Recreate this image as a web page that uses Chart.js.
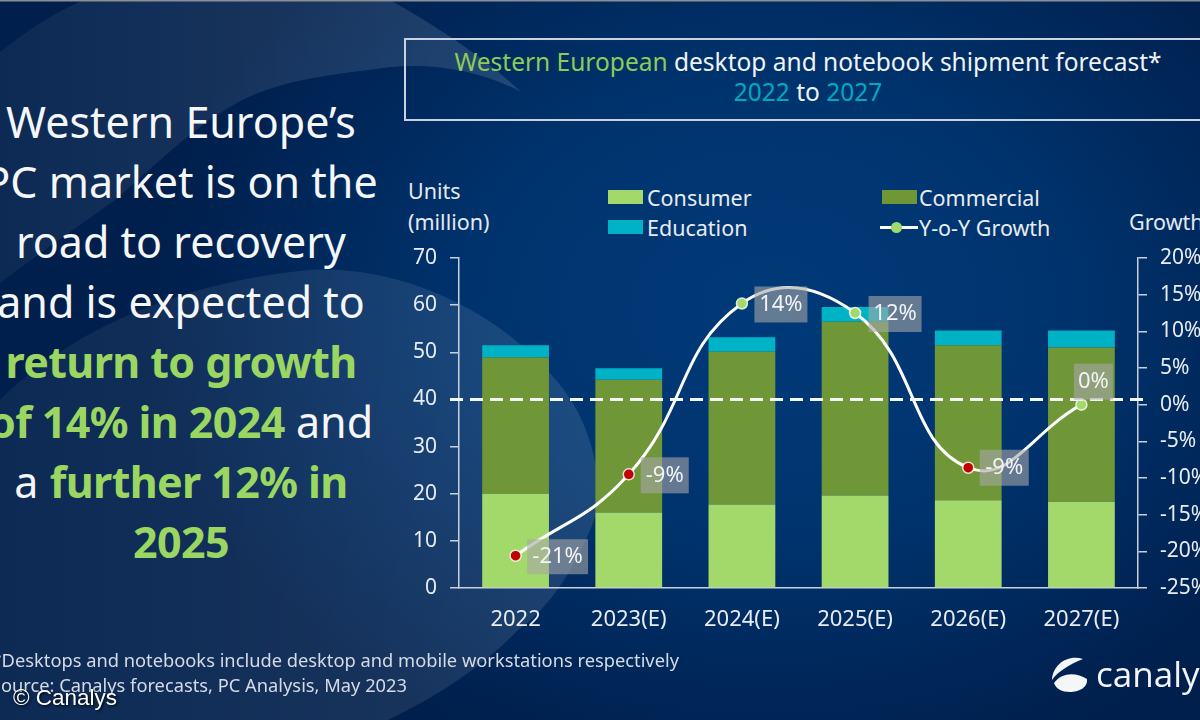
<!DOCTYPE html>
<html>
<head>
<meta charset="utf-8">
<script src="https://cdn.jsdelivr.net/npm/chart.js@4"></script>
<style>
  html, body { margin: 0; padding: 0; }
  body { font-family: "Noto Sans", sans-serif; color: #f2f4f7; }
  #page {
    position: relative; width: 1200px; height: 720px; overflow: hidden;
    background: radial-gradient(ellipse 620px 480px at 770px 310px, #003a78 0%, #00346f 45%, #002658 80%, #001f4c 100%);
    background-color: #001f4c;
  }
  #shapes, #chart { position: absolute; left: 0; top: 0; }
  .abs { position: absolute; white-space: nowrap; }
  .green { color: #9ad661; font-weight: 700; letter-spacing: -0.6px; }
  .teal { color: #00a9c2; }

  #pitch {
    left: -59px; top: 92px; width: 480px; text-align: center;
    font-size: 43px; line-height: 60px; color: #f4f6f8;
  }
  #titlebox {
    left: 404px; top: 38px; width: 900px; height: 79px;
    border: 2px solid #c9d2de; box-sizing: content-box;
  }
  #title {
    left: 404px; top: 47px; width: 808px; text-align: center;
    font-size: 24.5px; line-height: 30px; color: #f0f3f6;
  }
  #title .lime { color: #8ccb58; }
  .axisname { font-size: 21.5px; line-height: 31px; color: #e4e9ef; }
  .legend-item { font-size: 21.5px; line-height: 24px; color: #e8ecf1; }
  .swatch { position: absolute; width: 35px; height: 14px; }
  .foot { font-size: 18.3px; line-height: 22px; color: #d5dbe4; }
  #credit {
    left: 13px; top: 686px; font-family: "Liberation Sans", sans-serif;
    font-size: 22.5px; line-height: 24px; color: #fff; text-shadow: 1px 1px 3px #000;
  }
  #brand { left: 1096px; top: 651px; font-family: "Open Sans", sans-serif; font-size: 35px; line-height: 46px; color: #f2f4f7; }
</style>
</head>
<body>
<div id="page">
  <svg id="shapes" width="1200" height="720" viewBox="0 0 1200 720">
    <defs>
      <linearGradient id="fadeTop" x1="0" y1="0" x2="1" y2="0">
        <stop offset="0" stop-color="#ffffff" stop-opacity="0.05"/>
        <stop offset="1" stop-color="#ffffff" stop-opacity="0.13"/>
      </linearGradient>
      <linearGradient id="fadeLow" x1="0" y1="0" x2="1" y2="0">
        <stop offset="0" stop-color="#ffffff" stop-opacity="0.05"/>
        <stop offset="1" stop-color="#ffffff" stop-opacity="0.11"/>
      </linearGradient>
    </defs>
    <path fill="url(#fadeTop)" d="M0,52 C28,30 55,12 84,0 L390,0 C440,28 490,62 521,92 C480,70 430,62 383,68 C320,76 270,82 230,107 C190,130 150,170 115,200 C70,232 30,260 0,283 Z"/>
    <path fill="url(#fadeLow)" d="M0,400 C50,350 150,285 310,270 C400,265 500,310 560,385 C600,435 605,500 590,530 C570,580 540,615 518,630 C480,670 430,700 388,720 L0,720 Z"/>
    <rect x="0" y="0" width="1200" height="1.5" fill="#8a8f96"/>
    <path fill="#f4f6f8" d="M1083,659 C1068,654 1053,664 1052,680 C1057,672 1070,664 1083,659 Z"/>
    <path fill="#f4f6f8" d="M1054,683 C1062,672 1076,672 1087,679 C1088,688 1078,692 1070,692 C1062,692 1056,689 1054,683 Z"/>
  </svg>

  <div id="pitch" class="abs">
    Western Europe’s<br>PC market is on the<br>road to recovery<br>and is expected to<br>
    <span class="green">return to growth</span><br>
    <span class="green">of 14% in 2024</span> and<br>
    a <span class="green">further 12% in</span><br>
    <span class="green">2025</span>
  </div>

  <div id="titlebox" class="abs"></div>
  <div id="title" class="abs">
    <span class="lime">Western European</span> desktop and notebook shipment forecast*<br>
    <span class="teal">2022</span> to <span class="teal">2027</span>
  </div>

  <div class="abs axisname" style="left:408px;top:175px">Units<br>(million)</div>
  <div class="abs axisname" style="left:1129px;top:206px">Growth</div>
  <div id="legend"></div>

  <canvas id="chart" width="1200" height="720"></canvas>

  <div class="abs foot" style="right:521px;top:649px">*Desktops and notebooks include desktop and mobile workstations respectively</div>
  <div class="abs foot" style="right:793px;top:674px">Source: Canalys forecasts, PC Analysis, May 2023</div>
  <div id="credit" class="abs">© Canalys</div>
  <div id="brand" class="abs">canalys</div>
</div>

<script>
/* ── Data ────────────────────────────────────────────────────── */
const categories = ['2022', '2023(E)', '2024(E)', '2025(E)', '2026(E)', '2027(E)'];
const consumer   = [20.0, 16.0, 17.7, 19.6, 18.6, 18.3];
const commercial = [28.9, 28.2, 32.4, 36.9, 32.9, 32.7];
const education  = [2.6, 2.4, 3.1, 3.1, 3.1, 3.6];
const growth     = [-20.6, -9.5, 13.8, 12.5, -8.6, 0];
const growthText = ['-21%', '-9%', '14%', '12%', '-9%', '0%'];

const unitTicks   = [0, 10, 20, 30, 40, 50, 60, 70];
const growthTicks = [-25, -20, -15, -10, -5, 0, 5, 10, 15, 20];

/* the dashed rule sits at 40 on the units axis in the original */
const ruleAt = 40;

/* ── Styling ─────────────────────────────────────────────────── */
const GREEN_LIGHT = '#a2d96a';
const GREEN_DARK  = '#6f9738';
const TEAL        = '#00b2c6';
const AXIS        = '#c8d0dc';
const TICK_TEXT   = '#e8ecf1';
const FONT        = '"Noto Sans", sans-serif';

// offset of each grey label box from its point
const labelOffsets = [[42, 1], [36, 1], [39, 1], [40, 1], [36, 0], [12, -23]];
const labelBoxes   = [[61, 35], [48, 36], [53, 36], [53, 36], [49, 36], [39, 36]];

/* ── Legend ──────────────────────────────────────────────────── */
function renderLegend() {
  const el = document.getElementById('legend');
  const bars = [
    { label: 'Consumer',   color: GREEN_LIGHT, x: 608, y: 190 },
    { label: 'Commercial', color: GREEN_DARK,  x: 882, y: 190 },
    { label: 'Education',  color: TEAL,        x: 608, y: 220 },
  ];
  el.innerHTML = bars.map(b => `
    <div class="swatch" style="left:${b.x}px;top:${b.y}px;background:${b.color}"></div>
    <div class="abs legend-item" style="left:${b.x + (b.x === 608 ? 39 : 37)}px;top:${b.y - 4}px">${b.label}</div>`).join('') + `
    <div class="swatch" style="left:880px;top:226px;width:38px;height:3px;background:#fff"></div>
    <div class="swatch" style="left:891px;top:222px;width:11px;height:11px;border-radius:50%;background:${GREEN_LIGHT}"></div>
    <div class="abs legend-item" style="left:919px;top:216px">Y-o-Y Growth</div>`;
}

/* ── Plugins ─────────────────────────────────────────────────── */
const ruleAndLabels = {
  id: 'ruleAndLabels',
  afterDatasetsDraw(chart) {
    const { ctx, scales } = chart;
    const y = scales.y.getPixelForValue(ruleAt);
    ctx.save();
    ctx.strokeStyle = '#f4f6f8';
    ctx.lineWidth = 3;
    ctx.setLineDash([13, 7]);
    ctx.beginPath();
    ctx.moveTo(450, y);
    ctx.lineTo(1147, y);
    ctx.stroke();
    ctx.setLineDash([]);

    const meta = chart.getDatasetMeta(3);
    ctx.font = '22px ' + FONT;
    ctx.textAlign = 'center';
    ctx.textBaseline = 'middle';
    meta.data.forEach((pt, i) => {
      const cx = pt.x + labelOffsets[i][0];
      const cy = pt.y + labelOffsets[i][1];
      const [w, h] = labelBoxes[i];
      ctx.fillStyle = 'rgba(166,166,166,0.6)';
      ctx.fillRect(cx - w / 2, cy - h / 2, w, h);
      ctx.fillStyle = '#f2f4f6';
      ctx.fillText(growthText[i], cx, cy);
    });
    ctx.restore();
  },
};

/* ── Chart ───────────────────────────────────────────────────── */
renderLegend();

new Chart(document.getElementById('chart'), {
  type: 'bar',
  data: {
    labels: categories,
    datasets: [
      { label: 'Consumer',   data: consumer,   backgroundColor: GREEN_LIGHT, stack: 'units', order: 2 },
      { label: 'Commercial', data: commercial, backgroundColor: GREEN_DARK,  stack: 'units', order: 2 },
      { label: 'Education',  data: education,  backgroundColor: TEAL,        stack: 'units', order: 2 },
      {
        label: 'Y-o-Y Growth',
        type: 'line',
        data: growth,
        yAxisID: 'y2',
        order: 1,
        borderColor: '#ffffff',
        borderWidth: 3,
        tension: 0.45,
        pointRadius: 5.5,
        pointBorderWidth: 1.5,
        pointBorderColor: 'rgba(255,255,255,0.8)',
        pointBackgroundColor: growth.map(v => (v < 0 ? '#c00000' : GREEN_LIGHT)),
      },
    ],
  },
  options: {
    responsive: false,
    animation: false,
    devicePixelRatio: 1,
    layout: { padding: { top: 258, left: 0, right: 0, bottom: 0 } },
    plugins: { legend: { display: false }, tooltip: { enabled: false } },
    datasets: { bar: { barPercentage: 0.59, categoryPercentage: 1 } },
    scales: {
      x: {
        stacked: true,
        afterFit: s => { s.height = 132; },
        border: { color: AXIS, width: 1.5 },
        grid: { display: false },
        ticks: { color: TICK_TEXT, font: { family: FONT, size: 22 }, padding: 11, maxRotation: 0 },
      },
      y: {
        stacked: true,
        min: 0,
        max: 70,
        afterFit: s => { s.width = 459; },
        afterBuildTicks: s => { s.ticks = unitTicks.map(value => ({ value })); },
        border: { color: AXIS, width: 1.5 },
        grid: { drawOnChartArea: false, color: AXIS, tickLength: 9, lineWidth: 1.5 },
        ticks: { color: TICK_TEXT, font: { family: FONT, size: 21 }, padding: 13 },
      },
      y2: {
        position: 'right',
        min: -25,
        max: 20,
        afterFit: s => { s.width = 62; },
        afterBuildTicks: s => { s.ticks = growthTicks.map(value => ({ value })); },
        border: { color: AXIS, width: 1.5 },
        grid: { drawOnChartArea: false, color: AXIS, tickLength: 9, lineWidth: 1.5 },
        ticks: { color: TICK_TEXT, font: { family: FONT, size: 21 }, padding: 13, callback: v => v + '%' },
      },
    },
  },
  plugins: [ruleAndLabels],
});
</script>
</body>
</html>
